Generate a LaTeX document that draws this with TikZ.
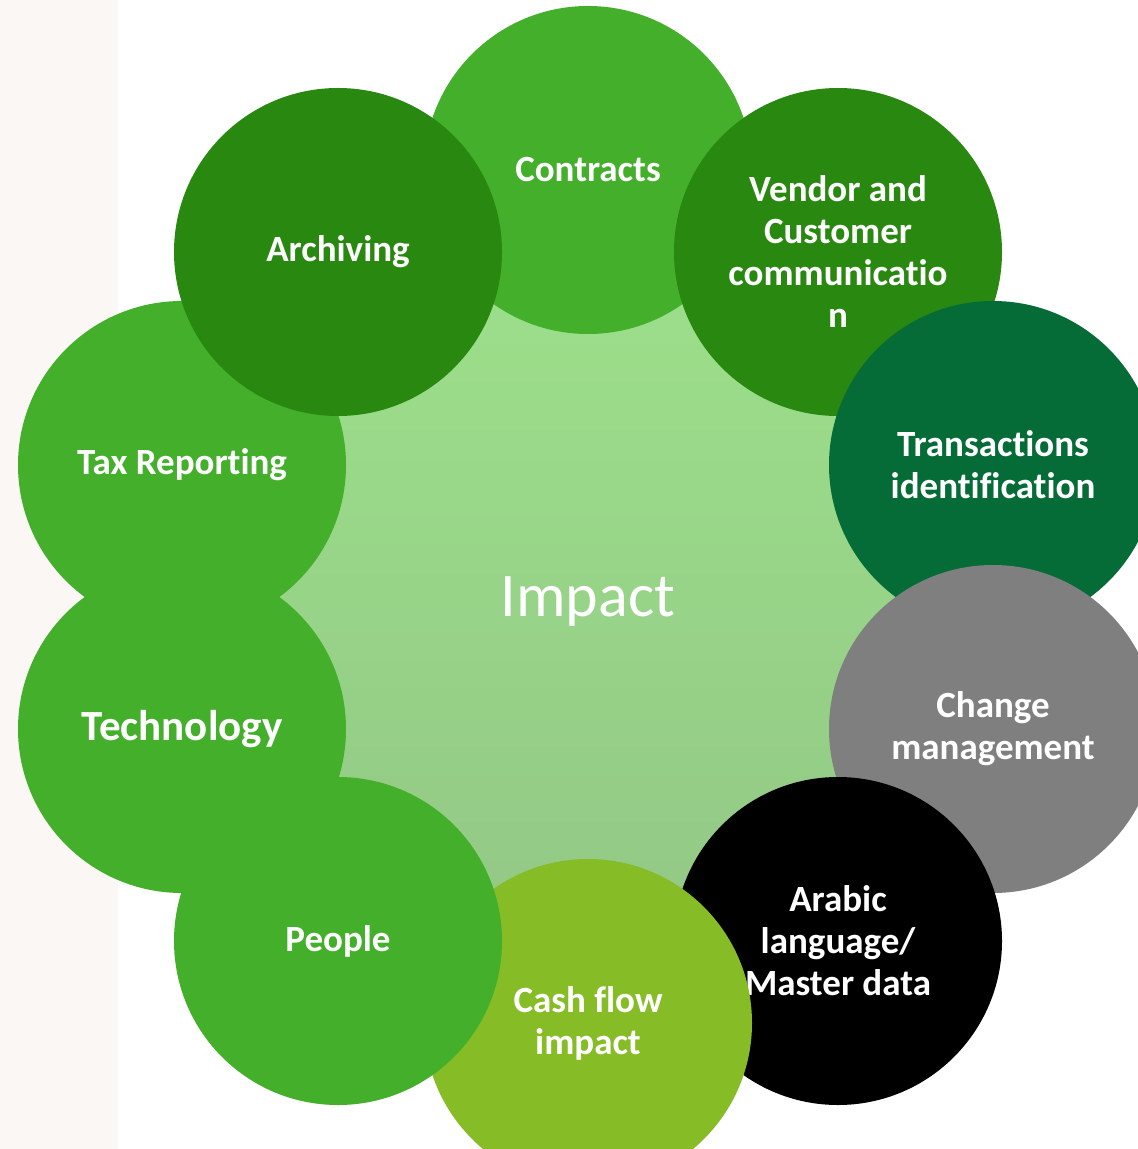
\documentclass[tikz,border=0pt]{standalone}
\usepackage{fontspec}
\setmainfont[Ligatures=NoCommon]{Carlito}
\definecolor{stripbg}{HTML}{FBF7F5}
\definecolor{grnA}{HTML}{43AF2B}
\definecolor{grnB}{HTML}{288810}
\definecolor{grnC}{HTML}{056C38}
\definecolor{greyC}{HTML}{7F7F7F}
\definecolor{limeC}{HTML}{86BC26}
\definecolor{coreTop}{HTML}{9CDF8A}
\definecolor{coreBot}{HTML}{93C886}
\begin{document}
\begin{tikzpicture}[x=0.5pt,y=-0.5pt,
  petal/.style={circle, minimum size=164pt, inner sep=0pt, text=white,
    align=center, font=\bfseries\fontsize{18.5}{21}\selectfont},
  bigtext/.style={font=\bfseries\fontsize{21.5}{24}\selectfont},
  core/.style={circle, minimum size=330pt, inner sep=0pt, text=white,
    top color=coreTop, bottom color=coreBot, draw=none,
    font=\fontsize{31}{36}\selectfont}]
  \useasboundingbox (0,0) rectangle (1138,1149);
  % page background
  \fill[white] (0,0) rectangle (1138,1149);
  \fill[stripbg] (0,0) rectangle (118,1149);
  % central disc
  \node[core] (impact) at (588,602) {Impact};
  % ring of topics, clockwise from the top, each drawn over the previous one
  \node[petal, fill=grnA]  (contracts) at (588,170) {Contracts};
  \node[petal, fill=grnB]  (vendor)    at (838,252) {Vendor and\\Customer\\communicatio\\n};
  \node[petal, fill=grnC]  (trans)     at (993,465) {Transactions\\identification};
  \node[petal, fill=greyC] (change)    at (993,729) {Change\\management};
  \node[petal, fill=black] (arabic)    at (838,941) {Arabic\\language/\\Master data};
  \node[petal, fill=limeC] (cash)      at (588,1023) {Cash flow\\impact};
  \node[petal, fill=grnA]  (people)    at (338,941) {People};
  \node[petal, fill=grnA, bigtext] (tech) at (182,729) {Technology};
  \node[petal, fill=grnA]  (tax)       at (182,465) {Tax Reporting};
  \node[petal, fill=grnB]  (archiving) at (338,252) {Archiving};
\end{tikzpicture}
\end{document}
